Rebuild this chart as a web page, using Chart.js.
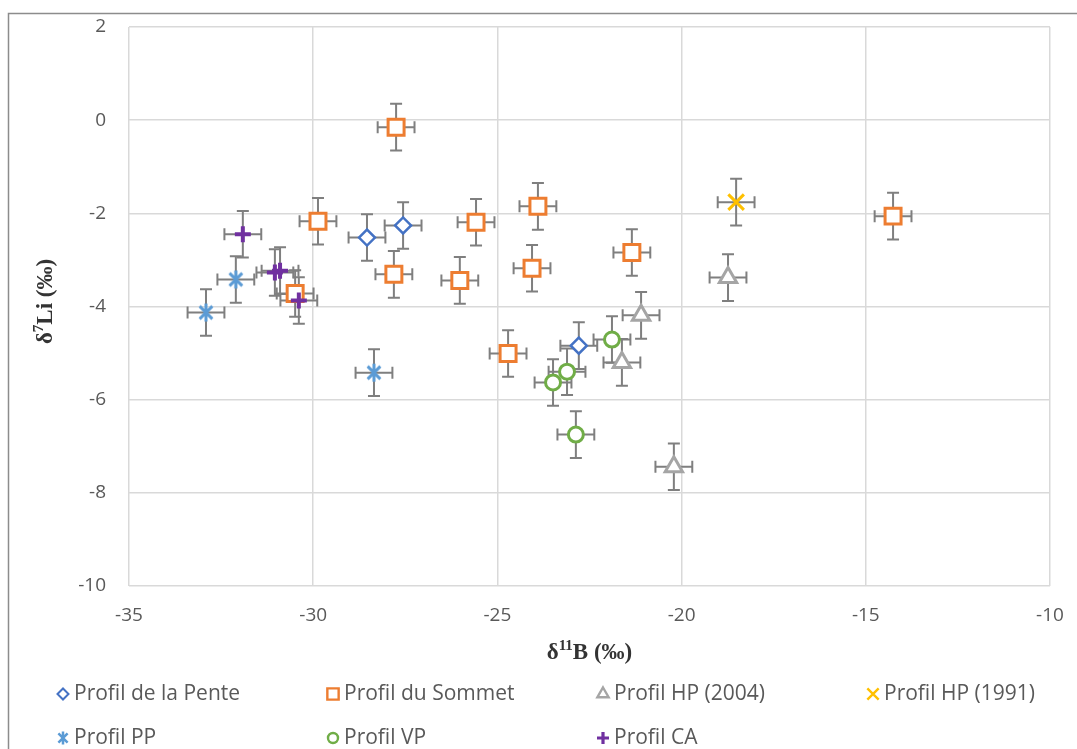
<!DOCTYPE html>
<html>
<head>
<meta charset="utf-8">
<script src="https://cdn.jsdelivr.net/npm/chart.js@4"></script>
<style>
  html, body { margin: 0; padding: 0; background: #fff; }
  #wrap { width: 1077px; height: 749px; }
</style>
</head>
<body>
<div id="wrap"><canvas id="isoChart" width="1077" height="749"></canvas></div>
<script>
// d11B (x) and d7Li (y) per profile, in permil
const penteX = [-28.54, -27.56, -22.79];
const penteY = [-2.52, -2.26, -4.84];
const sommetX = [-27.75, -29.87, -27.81, -30.49, -25.58, -26.02, -23.90, -24.06, -24.71, -21.35, -14.26];
const sommetY = [-0.15, -2.17, -3.31, -3.72, -2.19, -3.44, -1.85, -3.18, -5.01, -2.84, -2.06];
const hp2004X = [-21.10, -21.62, -18.74, -20.21];
const hp2004Y = [-4.19, -5.20, -3.38, -7.44];
const hp1991X = [-18.52];
const hp1991Y = [-1.76];
const ppX = [-32.91, -32.10, -28.35];
const ppY = [-4.13, -3.42, -5.42];
const vpX = [-21.89, -23.11, -23.49, -22.87];
const vpY = [-4.71, -5.40, -5.63, -6.75];
const caX = [-31.91, -31.04, -30.90, -30.39];
const caY = [-2.45, -3.27, -3.23, -3.87];

// analytical uncertainty on both axes
const X_ERR = 0.5;
const Y_ERR = 0.5;

const seriesNames = ["Profil de la Pente", "Profil du Sommet", "Profil HP (2004)", "Profil HP (1991)",
                     "Profil PP", "Profil VP", "Profil CA"];
const seriesX = [penteX, sommetX, hp2004X, hp1991X, ppX, vpX, caX];
const seriesY = [penteY, sommetY, hp2004Y, hp1991Y, ppY, vpY, caY];

const xTicks = { min: -35, max: -10, step: 5 };
const yTicks = { min: -10, max: 2, step: 2 };

// asterisk marker: vertical bar plus two diagonals
function makeAsterisk(half, lw, color) {
  const c = document.createElement("canvas");
  const s = Math.ceil(half * 2 + lw * 2);
  c.width = s; c.height = s;
  const g = c.getContext("2d");
  const m = s / 2;
  const d = half * Math.SQRT1_2;
  g.strokeStyle = color;
  g.lineWidth = lw;
  g.lineCap = "butt";
  g.beginPath();
  g.moveTo(m, m - half); g.lineTo(m, m + half);
  g.moveTo(m - d, m - d); g.lineTo(m + d, m + d);
  g.moveTo(m + d, m - d); g.lineTo(m - d, m + d);
  g.stroke();
  return c;
}

const styles = [
  { color: "#4472c4", point: "rectRot", radius: 8, width: 2.5, legRadius: 5.5 },
  { color: "#ed7d31", point: "rect", radius: 11.3, width: 3, legRadius: 8 },
  { color: "#a5a5a5", point: "triangle", radius: 10, width: 3, legRadius: 6.5 },
  { color: "#ffc000", point: "crossRot", radius: 11, width: 3, legRadius: 8 },
  { color: "#5b9bd5", point: makeAsterisk(9, 3, "#5b9bd5"), radius: 9, width: 3,
    legPoint: makeAsterisk(6.5, 2.5, "#5b9bd5"), legRadius: 6.5 },
  { color: "#70ad47", point: "circle", radius: 7.5, width: 3, legRadius: 5 },
  { color: "#7030a0", point: "cross", radius: 8, width: 4, legRadius: 6 }
];

const datasets = seriesNames.map((name, i) => ({
  label: name,
  data: seriesX[i].map((x, j) => ({ x: x, y: seriesY[i][j] })),
  pointStyle: styles[i].point,
  pointRadius: styles[i].radius,
  pointHoverRadius: styles[i].radius,
  pointBorderColor: styles[i].color,
  pointBackgroundColor: "#ffffff",
  pointBorderWidth: styles[i].width,
  showLine: false,
  order: seriesNames.length - i
}));

const frame = {
  id: "frame",
  beforeDraw(chart) {
    const ctx = chart.ctx;
    ctx.save();
    ctx.fillStyle = "#fff";
    ctx.fillRect(0, 0, chart.width, chart.height);
    ctx.strokeStyle = "#8c8c8c";
    ctx.lineWidth = 1.5;
    ctx.beginPath();
    ctx.moveTo(8.5, chart.height);
    ctx.lineTo(8.5, 13.5);
    ctx.lineTo(chart.width, 13.5);
    ctx.stroke();
    ctx.restore();
  }
};

const errorBars = {
  id: "errorBars",
  beforeDatasetsDraw(chart) {
    const ctx = chart.ctx;
    const xs = chart.scales.x, ys = chart.scales.y;
    const cap = 6;
    ctx.save();
    ctx.strokeStyle = "#7f7f7f";
    ctx.lineWidth = 2;
    chart.data.datasets.forEach(ds => {
      ds.data.forEach(p => {
        const cx = xs.getPixelForValue(p.x);
        const cy = ys.getPixelForValue(p.y);
        const x0 = xs.getPixelForValue(p.x - X_ERR);
        const x1 = xs.getPixelForValue(p.x + X_ERR);
        const y0 = ys.getPixelForValue(p.y - Y_ERR);
        const y1 = ys.getPixelForValue(p.y + Y_ERR);
        ctx.beginPath();
        ctx.moveTo(x0, cy); ctx.lineTo(x1, cy);
        ctx.moveTo(x0, cy - cap); ctx.lineTo(x0, cy + cap);
        ctx.moveTo(x1, cy - cap); ctx.lineTo(x1, cy + cap);
        ctx.moveTo(cx, y0); ctx.lineTo(cx, y1);
        ctx.moveTo(cx - cap, y0); ctx.lineTo(cx + cap, y0);
        ctx.moveTo(cx - cap, y1); ctx.lineTo(cx + cap, y1);
        ctx.stroke();
      });
    });
    ctx.restore();
  }
};

// draws "δ" + superscript + rest, centred on (0, 0) of the current transform
function drawIsoLabel(ctx, sup, rest) {
  const big = "bold 23px 'Liberation Serif', 'Times New Roman', serif";
  const small = "bold 15px 'Liberation Serif', 'Times New Roman', serif";
  ctx.font = big;
  const wd = ctx.measureText("δ").width;
  const wr = ctx.measureText(rest).width;
  ctx.font = small;
  const ws = ctx.measureText(sup).width;
  let x = -(wd + ws + wr) / 2;
  ctx.fillStyle = "#333";
  ctx.textBaseline = "middle";
  ctx.textAlign = "left";
  ctx.font = big;
  ctx.fillText("δ", x, 0);
  x += wd;
  ctx.font = small;
  ctx.fillText(sup, x, -7);
  x += ws;
  ctx.font = big;
  ctx.fillText(rest, x, 0);
}

const axisTitles = {
  id: "axisTitles",
  afterDraw(chart) {
    const ctx = chart.ctx;
    const area = chart.chartArea;
    ctx.save();
    ctx.translate((area.left + area.right) / 2, 653);
    drawIsoLabel(ctx, "11", "B (‰)");
    ctx.restore();
    ctx.save();
    ctx.translate(46, (area.top + area.bottom) / 2 - 5);
    ctx.rotate(-Math.PI / 2);
    drawIsoLabel(ctx, "7", "Li (‰)");
    ctx.restore();
  }
};

const gridLegend = {
  id: "gridLegend",
  afterDraw(chart) {
    const ctx = chart.ctx;
    ctx.save();
    seriesNames.forEach((name, i) => {
      const col = i % 4, row = Math.floor(i / 4);
      const mx = 63 + col * 270;
      const my = 694 + row * 44;
      const st = styles[i];
      ctx.strokeStyle = st.color;
      ctx.fillStyle = "#ffffff";
      ctx.lineWidth = st.width * 0.8;
      Chart.helpers.drawPoint(ctx, {
        pointStyle: st.legPoint || st.point,
        radius: st.legRadius,
        rotation: 0,
        borderWidth: st.width * 0.8
      }, mx, my);
      ctx.fillStyle = "#595959";
      ctx.font = "21px 'Open Sans', sans-serif";
      ctx.textBaseline = "middle";
      ctx.textAlign = "left";
      ctx.fillText(name, mx + 11, my);
    });
    ctx.restore();
  }
};

const tickFont = { family: "'Open Sans', sans-serif", size: 19 };

new Chart(document.getElementById("isoChart"), {
  type: "scatter",
  data: { datasets: datasets },
  options: {
    responsive: false,
    animation: false,
    layout: { padding: { top: 27, right: 27, bottom: 123, left: 0 } },
    plugins: {
      legend: { display: false },
      tooltip: { enabled: false }
    },
    scales: {
      x: {
        type: "linear",
        min: xTicks.min,
        max: xTicks.max,
        afterFit(scale) {
          scale.height = 40;
          scale.paddingLeft = 0;
          scale.paddingRight = 0;
        },
        ticks: { stepSize: xTicks.step, color: "#595959", font: tickFont, padding: 18 },
        grid: { color: "#d9d9d9", lineWidth: 1.5, drawTicks: false },
        border: { display: false }
      },
      y: {
        type: "linear",
        min: yTicks.min,
        max: yTicks.max,
        afterFit(scale) {
          scale.width = 129;
          scale.paddingTop = 0;
          scale.paddingBottom = 0;
        },
        ticks: { stepSize: yTicks.step, color: "#595959", font: tickFont, padding: 23 },
        grid: { color: "#d9d9d9", lineWidth: 1.5, drawTicks: false },
        border: { display: false }
      }
    }
  },
  plugins: [frame, errorBars, axisTitles, gridLegend]
});
</script>
</body>
</html>
